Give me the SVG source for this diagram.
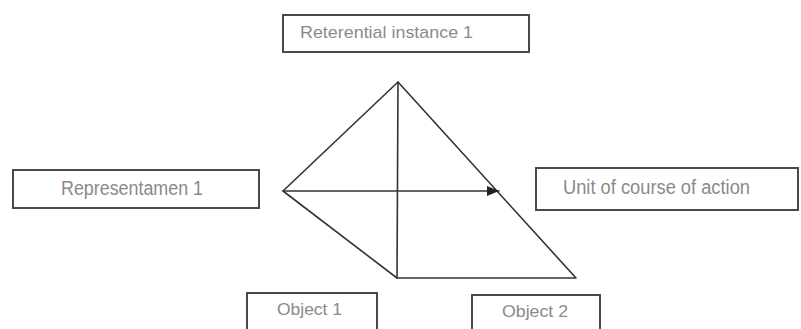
<svg xmlns="http://www.w3.org/2000/svg" width="801" height="329" viewBox="0 0 801 329">
<style>
.box{fill:#fff;stroke:#4a4a4a;stroke-width:2}
.lbl{font-family:"Liberation Sans",Arial,sans-serif;font-size:17px;fill:#8a8a8a}
.big{font-size:20px}
.ln{fill:none;stroke:#333;stroke-width:1.6;stroke-linecap:round;stroke-linejoin:round}
</style>
<defs>
<marker id="ah" viewBox="0 0 12 10" refX="12" refY="5" markerWidth="12" markerHeight="10" markerUnits="userSpaceOnUse" orient="auto">
<path d="M0,0 L12,5 L0,10 z" fill="#222"/>
</marker>
</defs>
<rect width="801" height="329" fill="#fff"/>
<g id="connectors">
<polyline class="ln" points="283,191 398,82 576,278 397,278 283,191"/>
<line class="ln" x1="398" y1="82" x2="397" y2="278"/>
<line class="ln" x1="283" y1="191" x2="499" y2="191" marker-end="url(#ah)"/>
</g>
<g id="ref1">
<rect class="box" x="283" y="15" width="246" height="37"/>
<text class="lbl" x="300" y="38" textLength="173" lengthAdjust="spacingAndGlyphs">Reterential instance 1</text>
</g>
<g id="rep1">
<rect class="box" x="13" y="170" width="246" height="38"/>
<text class="lbl big" x="61" y="195" textLength="142" lengthAdjust="spacingAndGlyphs">Representamen 1</text>
</g>
<g id="unit">
<rect class="box" x="536" y="168" width="262" height="42"/>
<text class="lbl big" x="563" y="194" textLength="187" lengthAdjust="spacingAndGlyphs">Unit of course of action</text>
</g>
<g id="obj1">
<rect class="box" x="247" y="293" width="130" height="40"/>
<text class="lbl" x="277" y="315" textLength="65" lengthAdjust="spacingAndGlyphs">Object 1</text>
</g>
<g id="obj2">
<rect class="box" x="472" y="295" width="128" height="40"/>
<text class="lbl" x="502" y="317" textLength="66" lengthAdjust="spacingAndGlyphs">Object 2</text>
</g>
</svg>
